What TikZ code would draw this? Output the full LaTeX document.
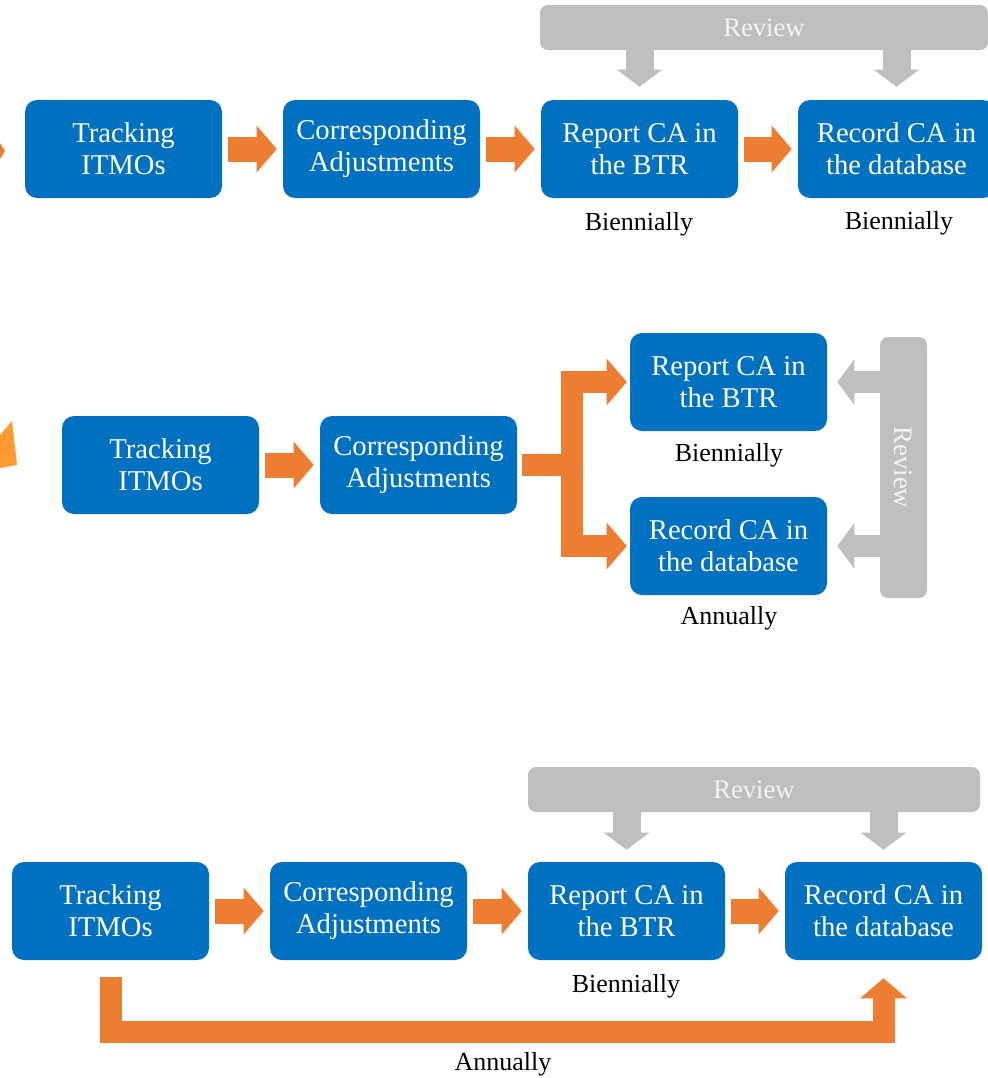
\documentclass[tikz,border=0pt]{standalone}
\usepackage{fontspec}
\setmainfont{Liberation Serif}
\usetikzlibrary{arrows.meta,positioning}
\definecolor{caBlue}{HTML}{0070C0}
\definecolor{caOrange}{HTML}{ED7D31}
\definecolor{caLight}{HTML}{FF9B30}
\definecolor{caGray}{HTML}{BFBFBF}
\definecolor{caText}{HTML}{F4F4F4}

\tikzset{
    stepbox/.style={rectangle,rounded corners=9pt,fill=caBlue,text=white,
        minimum width=147.75pt,minimum height=73.5pt,align=center,inner sep=0pt,
        font=\fontsize{21.5}{24}\selectfont},
    freq/.style={font=\fontsize{19.5}{22}\selectfont},
    reviewbar/.style={rectangle,rounded corners=6pt,fill=caGray,text=caText,
        minimum height=33.75pt,inner sep=0pt,font=\fontsize{20}{24}\selectfont},
    flowarrow/.style={draw=caOrange,line width=18.75pt,
        -{Triangle[length=15pt,width=35pt,line width=0pt]},
        shorten <=4.5pt,shorten >=4.5pt},
    revarrow/.style={draw=caGray,line width=21pt,
        -{Triangle[length=12.75pt,width=34pt,line width=0pt]}}
}

\begin{document}
\begin{tikzpicture}[x=0.75pt,y=-0.75pt]
    \useasboundingbox (0,0) rectangle (988,1078);

    % cut-off pieces at the left edge
    \fill[caOrange] (0,143) -- (5,151) -- (0,159) -- cycle;
    \fill[caLight] (0,435) -- (12,421) -- (17,465) -- (0,468) -- cycle;

    % Option 1: report, then record
    \node[reviewbar,minimum width=336pt] (review1) at (764,27.5) {Review};
    \node[stepbox] (t1) at (123.5,149) {Tracking\\ITMOs};
    \node[stepbox] (c1) at (381.5,149) {Corresponding\\Adjustments};
    \node[stepbox] (r1) at (639.5,149) {Report CA in\\the BTR};
    \node[stepbox] (d1) at (896.5,149) {Record CA in\\the database};
    \node[freq] (f1a) at (639,224) {Biennially};
    \node[freq] (f1b) at (899,223) {Biennially};

    \draw[flowarrow] (t1) -- (c1);
    \draw[flowarrow] (c1) -- (r1);
    \draw[flowarrow] (r1) -- (d1);
    \draw[revarrow,shorten >=9.75pt] (review1.south -| r1.north) -- (r1.north);
    \draw[revarrow,shorten >=9.75pt] (review1.south -| d1.north) -- (d1.north);

    % Option 2: report and record in parallel
    \node[stepbox] (t2) at (160.5,465) {Tracking\\ITMOs};
    \node[stepbox] (c2) at (418.5,465) {Corresponding\\Adjustments};
    \node[stepbox] (r2) at (728.5,382) {Report CA in\\the BTR};
    \node[stepbox] (d2) at (728.5,546) {Record CA in\\the database};
    \node[freq] (f2a) at (729,455) {Biennially};
    \node[freq] (f2b) at (729,618) {Annually};

    \draw[flowarrow] (t2) -- (c2);
    \draw[flowarrow,line width=16.5pt,shorten <=3.75pt,shorten >=2.25pt]
        (c2.east) -- ++(55,0) |- (r2.west);
    \draw[flowarrow,line width=16.5pt,shorten <=3.75pt,shorten >=2.25pt]
        (c2.east) -- ++(55,0) |- (d2.west);

    \coordinate (rv2) at (903.5,467.5);
    \draw[revarrow,line width=16.5pt,shorten <=15pt,shorten >=7.5pt] (rv2 |- r2.east) -- (r2.east);
    \draw[revarrow,line width=16.5pt,shorten <=15pt,shorten >=7.5pt] (rv2 |- d2.east) -- (d2.east);
    \node[reviewbar,rotate=-90,minimum width=195.75pt,minimum height=35.25pt] (review2) at (rv2) {Review};

    % Option 3: report biennially, record annually
    \node[reviewbar,minimum width=339pt] (review3) at (754,789.5) {Review};
    \node[stepbox] (t3) at (110.5,911) {Tracking\\ITMOs};
    \node[stepbox] (c3) at (368.5,911) {Corresponding\\Adjustments};
    \node[stepbox] (r3) at (626.5,911) {Report CA in\\the BTR};
    \node[stepbox] (d3) at (883.5,911) {Record CA in\\the database};
    \node[freq] (f3a) at (626,986) {Biennially};
    \node[freq] (f3b) at (503,1064) {Annually};

    \draw[flowarrow] (t3) -- (c3);
    \draw[flowarrow] (c3) -- (r3);
    \draw[flowarrow] (r3) -- (d3);
    \draw[revarrow,shorten >=9pt] (review3.south -| r3.north) -- (r3.north);
    \draw[revarrow,shorten >=9pt] (review3.south -| d3.north) -- (d3.north);
    \draw[flowarrow,line width=16.5pt,shorten <=12.75pt,shorten >=13.5pt]
        (t3.south) -- ++(0,72) -| (d3.south);
\end{tikzpicture}
\end{document}
